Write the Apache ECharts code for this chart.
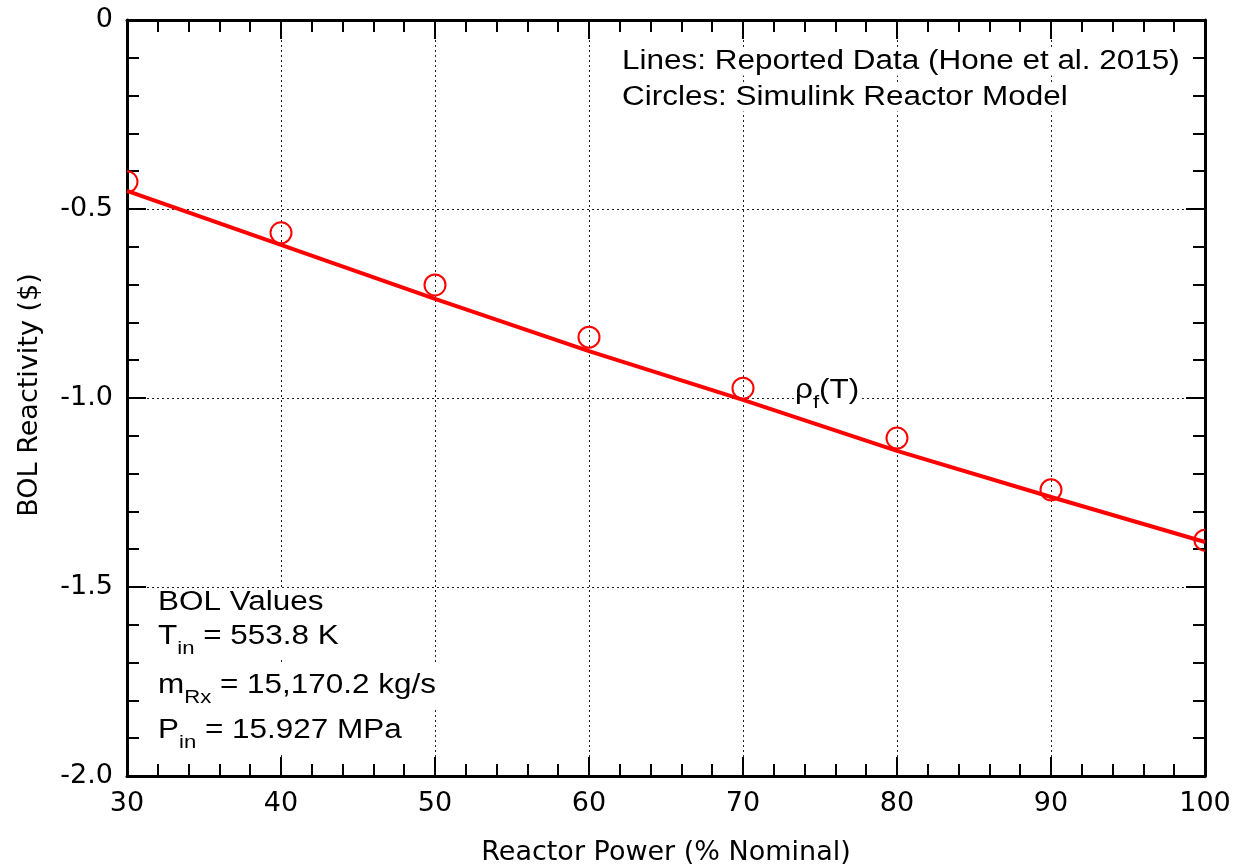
<!DOCTYPE html>
<html>
<head>
<meta charset="utf-8">
<script src="https://cdn.jsdelivr.net/npm/echarts@6/dist/echarts.min.js"></script>
<style>
  html, body { margin: 0; padding: 0; background: #fff; }
  #chart { width: 1241px; height: 864px; }
</style>
</head>
<body>
<div id="chart"></div>
<script>
// reactor power (% nominal)
const power = [30, 40, 50, 60, 70, 80, 90, 100];
// reported data (Hone et al. 2015) - line
const reported = [-0.452, -0.595, -0.738, -0.876, -1.005, -1.140, -1.262, -1.381];
// simulink reactor model - circles
const simulink = [-0.428, -0.563, -0.701, -0.839, -0.974, -1.106, -1.243, -1.376];
const yTicks = [0, -0.5, -1.0, -1.5, -2.0];

const axisFont = 'DejaVu Sans, sans-serif';
const textFont = 'Liberation Sans, Arial, sans-serif';
const red = '#ff0000';
const stretch = 1.165; // reference lettering is wider than Arial

let myChart = echarts.init(document.getElementById('chart'));

const axisCommon = {
  type: 'value',
  axisLine: { show: true, onZero: false, lineStyle: { color: '#000', width: 3 } },
  axisTick: { show: true, inside: true, length: 19, lineStyle: { color: '#000', width: 2 } },
  minorTick: { show: true, splitNumber: 5, length: 12, lineStyle: { color: '#000', width: 2 } },
};
const gridLine = { show: true, lineStyle: { color: '#222', type: [2, 3], width: 1 } };

const xBase = Object.assign({}, axisCommon, { min: 30, max: 100, interval: 10 });
const yBase = Object.assign({}, axisCommon, { min: yTicks[yTicks.length - 1], max: yTicks[0], interval: 0.5 });

// annotation text, left aligned, vertically centred on y
function label(x, y, text, size) {
  return {
    type: 'text', x: x, y: y, z: 1, scaleX: stretch,
    style: {
      text: text, fill: '#000', backgroundColor: '#fff',
      fontSize: size, fontFamily: textFont,
      verticalAlign: 'middle', align: 'left',
      rich: {
        sub: { fontSize: Math.round(size * 0.7), fontFamily: textFont, padding: [Math.round(size * 0.85), 0, 0, 0] },
      },
    },
  };
}

let option = {
  animation: false,
  backgroundColor: '#fff',
  grid: { left: 127, right: 36, top: 20, bottom: 88, containLabel: false, outerBoundsMode: 'none' },
  xAxis: [
    Object.assign({}, xBase, {
      position: 'bottom',
      name: 'Reactor Power (% Nominal)',
      nameLocation: 'middle',
      nameGap: 63,
      nameTextStyle: { fontFamily: axisFont, fontSize: 27, color: '#000' },
      axisLabel: { fontFamily: axisFont, fontSize: 27, color: '#000', margin: 14 },
      splitLine: gridLine,
    }),
    Object.assign({}, xBase, {
      position: 'top',
      axisLabel: { show: false },
      splitLine: { show: false },
    }),
  ],
  yAxis: [
    Object.assign({}, yBase, {
      position: 'left',
      name: 'BOL Reactivity ($)',
      nameLocation: 'middle',
      nameGap: 84,
      nameRotate: 90,
      nameTextStyle: { fontFamily: axisFont, fontSize: 27, color: '#000', padding: [0, 0, 0, 6] },
      axisLabel: {
        fontFamily: axisFont, fontSize: 27, color: '#000', margin: 14,
        formatter: v => (v === 0 ? '0' : v.toFixed(1)),
      },
      splitLine: gridLine,
    }),
    Object.assign({}, yBase, {
      position: 'right',
      axisLabel: { show: false },
      splitLine: { show: false },
    }),
  ],
  graphic: [
    label(622, 62, 'Lines: Reported Data (Hone et al. 2015)', 27),
    label(622, 98, 'Circles: Simulink Reactor Model', 27),
    label(158, 603, 'BOL Values', 27),
    label(158, 637, 'T{sub|in} = 553.8 K', 27),
    label(158, 686, 'm{sub|Rx} = 15,170.2 kg/s', 27),
    label(158, 731, 'P{sub|in} = 15.927 MPa', 27),
    label(795, 391, 'ρ{sub|f}(T)', 27),
  ],
  series: [
    {
      name: 'Reported',
      type: 'line',
      data: power.map((p, i) => [p, reported[i]]),
      symbol: 'none',
      clip: true,
      lineStyle: { color: red, width: 4 },
      z: 3,
    },
    {
      // open circles, clipped at the plot edge like the original
      name: 'Simulink',
      type: 'custom',
      data: power.map((p, i) => [p, simulink[i]]),
      clip: true,
      z: 4,
      renderItem: function (params, api) {
        const pt = api.coord([api.value(0), api.value(1)]);
        return {
          type: 'circle',
          shape: { cx: pt[0], cy: pt[1], r: 10.5 },
          style: { fill: 'none', stroke: red, lineWidth: 2 },
        };
      },
    },
  ],
};

myChart.setOption(option);
</script>
</body>
</html>
